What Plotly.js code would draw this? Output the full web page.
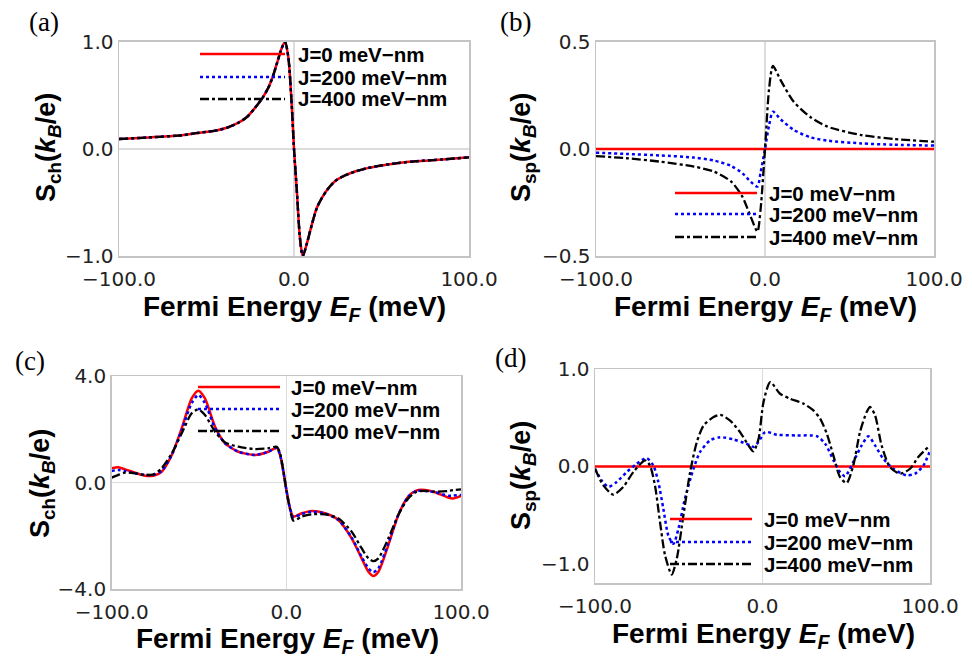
<!DOCTYPE html>
<html>
<head>
<meta charset="utf-8">
<script src="https://cdn.plot.ly/plotly-3.0.1.min.js"></script>
<style>html,body{margin:0;padding:0;background:#fff;}#chart{width:972px;height:657px;}</style>
</head>
<body>
<div id="chart"></div>
<script>
// ---------------- DATA ----------------
const legendLabels = ["J=0 meV\u2212nm", "J=200 meV\u2212nm", "J=400 meV\u2212nm"];
const xTicks = [-100, 0, 100];

// (a) S_ch, identical for all J
const eA = [-100, -83, -64, -55, -45, -38, -32, -27, -22.3, -18, -14.7, -12, -9.9, -7, -5.1, -3.2, -1.3, 0, 1.5, 3.4, 5, 7.2, 10.1, 13, 15.8, 19, 23.4, 28, 34.9, 42, 50, 60, 69, 85, 100];
const sA = [0.093, 0.108, 0.128, 0.15, 0.171, 0.20, 0.243, 0.296, 0.383, 0.477, 0.57, 0.68, 0.79, 0.94, 1.0, 0.85, 0.41, 0.0, -0.36, -0.83, -1.0, -0.89, -0.71, -0.55, -0.46, -0.38, -0.30, -0.255, -0.21, -0.178, -0.153, -0.13, -0.115, -0.097, -0.078];

// (b) S_sp
const eB = [-100, -82, -62, -42, -30, -20, -13.4, -8.5, -4.5, -2.6, 0, 2.4, 4.7, 9.3, 17, 27, 37, 57, 76, 100];
const sB0 = [0, 0, 0, 0, 0, 0, 0, 0, 0, 0, 0, 0, 0, 0, 0, 0, 0, 0, 0, 0];
const sB200 = [-0.017, -0.023, -0.03, -0.04, -0.054, -0.079, -0.113, -0.152, -0.175, -0.11, 0, 0.11, 0.174, 0.138, 0.089, 0.054, 0.039, 0.026, 0.02, 0.016];
const sB400 = [-0.033, -0.043, -0.059, -0.082, -0.106, -0.152, -0.222, -0.315, -0.385, -0.28, 0, 0.28, 0.387, 0.32, 0.22, 0.148, 0.104, 0.065, 0.047, 0.034];

// (c) S_ch
const eC = [-100, -96.2, -92.4, -86.6, -80.9, -76.1, -71.4, -65.6, -59.9, -54.2, -50.4, -46.6, -40.8, -35.1, -27.5, -17.9, -10.3, -5.5, -3.6, -1.7, 0.2, 2.1, 4.0, 8.8, 14.5, 22.1, 29.8, 37.4, 43.1, 47.0, 49.8, 52.7, 58.4, 64.1, 69.8, 74.6, 79.4, 85.1, 92.7, 95.6, 100];
const sC0 = [0.54, 0.575, 0.5, 0.375, 0.26, 0.26, 0.41, 1.04, 2.04, 3.16, 3.45, 3.16, 2.1, 1.475, 1.16, 1.04, 1.16, 1.31, 1.04, 0.41, -0.34, -0.96, -1.275, -1.15, -1.06, -1.15, -1.4, -2.09, -2.84, -3.34, -3.5, -3.34, -2.34, -1.21, -0.525, -0.29, -0.275, -0.36, -0.56, -0.59, -0.5];
const sC200 = [0.44, 0.475, 0.44, 0.35, 0.29, 0.29, 0.44, 1.04, 1.98, 2.98, 3.29, 2.98, 2.04, 1.475, 1.16, 1.04, 1.16, 1.31, 1.04, 0.41, -0.34, -0.97, -1.3, -1.175, -1.09, -1.16, -1.4, -2.06, -2.78, -3.21, -3.36, -3.21, -2.28, -1.21, -0.525, -0.31, -0.31, -0.36, -0.49, -0.48, -0.46];
const sC400 = [0.19, 0.29, 0.375, 0.35, 0.29, 0.31, 0.54, 1.1, 1.85, 2.6, 2.75, 2.54, 1.91, 1.51, 1.35, 1.26, 1.29, 1.35, 1.1, 0.45, -0.36, -1.0, -1.425, -1.275, -1.19, -1.19, -1.34, -1.84, -2.46, -2.84, -2.94, -2.84, -2.09, -1.21, -0.59, -0.34, -0.31, -0.34, -0.31, -0.28, -0.25];

// (d) S_sp
const eD0 = [-100, 100];
const sD0 = [0, 0];
const eD200 = [-100, -96, -92, -87.1, -81.1, -75.1, -69.2, -65.2, -62.2, -59.2, -56.2, -53.2, -50.2, -46.3, -41.2, -37.3, -31.3, -25.3, -17.3, -11.3, -7.4, -5.4, -2.4, 1.6, 8.6, 20.5, 32.4, 37.4, 42.4, 46.3, 49.3, 54.2, 59.2, 63.2, 67.2, 72.1, 78.1, 86.1, 91.1, 96.1, 100];
const sD200 = [-0.024, -0.144, -0.21, -0.16, -0.058, 0.027, 0.086, 0.01, -0.16, -0.435, -0.71, -0.795, -0.64, -0.33, -0.024, 0.147, 0.267, 0.30, 0.277, 0.243, 0.216, 0.2, 0.25, 0.353, 0.325, 0.318, 0.31, 0.233, 0.062, -0.058, -0.1, 0.045, 0.216, 0.31, 0.216, 0.079, -0.024, -0.092, -0.075, 0.01, 0.16];
const eD400 = [-100, -95, -89.1, -83.1, -77.1, -70.1, -67.2, -64.2, -61.2, -58.2, -54.2, -51.2, -47.2, -43.2, -39.2, -35.2, -29.2, -25.2, -19.3, -13.3, -8.4, -5.4, -2.4, 0.6, 4.6, 10.5, 16.5, 24.5, 30.4, 34.4, 38.4, 42.3, 46.3, 50.2, 54.2, 58.2, 62.2, 64.2, 67.2, 71.1, 76.1, 82.1, 88.1, 93.0, 100];
const sD400 = [-0.024, -0.195, -0.29, -0.21, -0.058, 0.062, 0.01, -0.195, -0.57, -0.91, -1.11, -0.95, -0.50, -0.058, 0.25, 0.42, 0.507, 0.53, 0.47, 0.35, 0.216, 0.154, 0.28, 0.66, 0.866, 0.746, 0.695, 0.644, 0.575, 0.49, 0.336, 0.113, -0.11, -0.171, 0.01, 0.353, 0.558, 0.61, 0.524, 0.216, -0.007, -0.075, -0.024, 0.096, 0.216];

// ---------------- STYLE ----------------
const W = 972, H = 657;
const px = v => v / W, py = v => 1 - v / H;
const styles = [
  {color: '#ff0000', width: 2.5, dash: 'solid'},
  {color: '#0000ff', width: 2.5, dash: 'dot'},
  {color: '#000000', width: 2.3, dash: 'dashdot'}
];
function tr(x, y, i, ax) {
  return {x: x, y: y, type: 'scatter', mode: 'lines', name: legendLabels[i],
    xaxis: 'x' + ax, yaxis: 'y' + ax, showlegend: false, hoverinfo: 'skip',
    line: {color: styles[i].color, width: styles[i].width, dash: styles[i].dash, shape: 'spline', smoothing: 0.7}};
}
const data = [
  tr(eA, sA, 0, ''), tr(eA, sA, 1, ''), tr(eA, sA, 2, ''),
  tr(eB, sB0, 0, '2'), tr(eB, sB200, 1, '2'), tr(eB, sB400, 2, '2'),
  tr(eC, sC0, 0, '3'), tr(eC, sC200, 1, '3'), tr(eC, sC400, 2, '3'),
  tr(eD0, sD0, 0, '4'), tr(eD200, sD200, 1, '4'), tr(eD400, sD400, 2, '4')
];

function xax(x0, x1, anchor) {
  return {domain: [px(x0), px(x1)], anchor: anchor, range: [-100, 100], tickvals: xTicks, tickformat: '.1f',
    showgrid: false, zeroline: true, zerolinecolor: '#dcdcdc', zerolinewidth: 1.5,
    showline: true, mirror: true, linecolor: '#c4c4c4', linewidth: 1.5, ticks: '',
    ticklabelstandoff: 4,
    tickfont: {family: 'DejaVu Sans', size: 20, color: '#222'}};
}
function yax(y0, y1, anchor, range, tv) {
  return {domain: [py(y1), py(y0)], anchor: anchor, range: range, tickvals: tv, tickformat: '.1f',
    showgrid: false, zeroline: true, zerolinecolor: '#dcdcdc', zerolinewidth: 1.5,
    showline: true, mirror: true, linecolor: '#c4c4c4', linewidth: 1.5, ticks: '',
    tickfont: {family: 'DejaVu Sans', size: 20, color: '#222'}};
}

const annotations = [];
const shapes = [];
function panelText(t, x, y) {
  annotations.push({text: t, x: px(x), y: py(y), xref: 'paper', yref: 'paper', showarrow: false,
    xanchor: 'center', yanchor: 'middle', font: {family: 'Liberation Serif', size: 27, color: '#000'}});
}
function xTitle(x, y) {
  annotations.push({text: '<b>Fermi Energy <i>E</i><sub><i>F</i></sub> (meV)</b>', x: px(x), y: py(y),
    xref: 'paper', yref: 'paper', showarrow: false, xanchor: 'center', yanchor: 'middle',
    font: {family: 'Liberation Sans', size: 28, color: '#000'}});
}
function yTitle(sub, x, y) {
  annotations.push({text: '<b>S<sub>' + sub + '</sub>(<i>k</i><sub><i>B</i></sub>/e)</b>', x: px(x), y: py(y),
    xref: 'paper', yref: 'paper', showarrow: false, xanchor: 'center', yanchor: 'middle', textangle: -90,
    font: {family: 'Liberation Sans', size: 27, color: '#000'}});
}
function legendBox(x0, x1, xt, ys) {
  for (let i = 0; i < 3; i++) {
    shapes.push({type: 'line', xref: 'paper', yref: 'paper', x0: px(x0), x1: px(x1), y0: py(ys[i]), y1: py(ys[i]),
      layer: 'above', line: {color: styles[i].color, width: styles[i].width, dash: styles[i].dash}});
    annotations.push({text: '<b>' + legendLabels[i] + '</b>', x: px(xt), y: py(ys[i]), xref: 'paper', yref: 'paper',
      showarrow: false, xanchor: 'left', yanchor: 'middle',
      font: {family: 'Liberation Sans', size: 20.5, color: '#000'}});
  }
}

panelText('(a)', 44, 22); panelText('(b)', 515, 22); panelText('(c)', 30, 361); panelText('(d)', 511, 358);
xTitle(294, 308); xTitle(765, 308); xTitle(287, 640); xTitle(763, 635);
yTitle('ch', 48, 148); yTitle('sp', 523, 148); yTitle('ch', 42, 484); yTitle('sp', 523, 476);
legendBox(200, 285, 296, [54, 77, 99]);
legendBox(675, 757, 767, [193, 214, 237]);
legendBox(198, 280, 289, [387, 409, 431]);
legendBox(670, 752, 762, [519, 542, 564]);

const layout = {
  width: W, height: H, margin: {l: 0, r: 0, t: 0, b: 0},
  paper_bgcolor: '#fff', plot_bgcolor: '#fff', showlegend: false,
  xaxis: xax(119, 469, 'y'), yaxis: yax(41.7, 256.3, 'x', [-1, 1], [-1, 0, 1]),
  xaxis2: xax(596, 934, 'y2'), yaxis2: yax(41.7, 256.3, 'x2', [-0.5, 0.5], [-0.5, 0, 0.5]),
  xaxis3: xax(111.7, 461, 'y3'), yaxis3: yax(376, 589.3, 'x3', [-4, 4], [-4, 0, 4]),
  xaxis4: xax(595, 930, 'y4'), yaxis4: yax(369, 583.3, 'x4', [-1.2, 1.0], [-1, 0, 1]),
  annotations: annotations, shapes: shapes
};
Plotly.newPlot('chart', data, layout, {staticPlot: true, displayModeBar: false});
</script>
</body>
</html>
